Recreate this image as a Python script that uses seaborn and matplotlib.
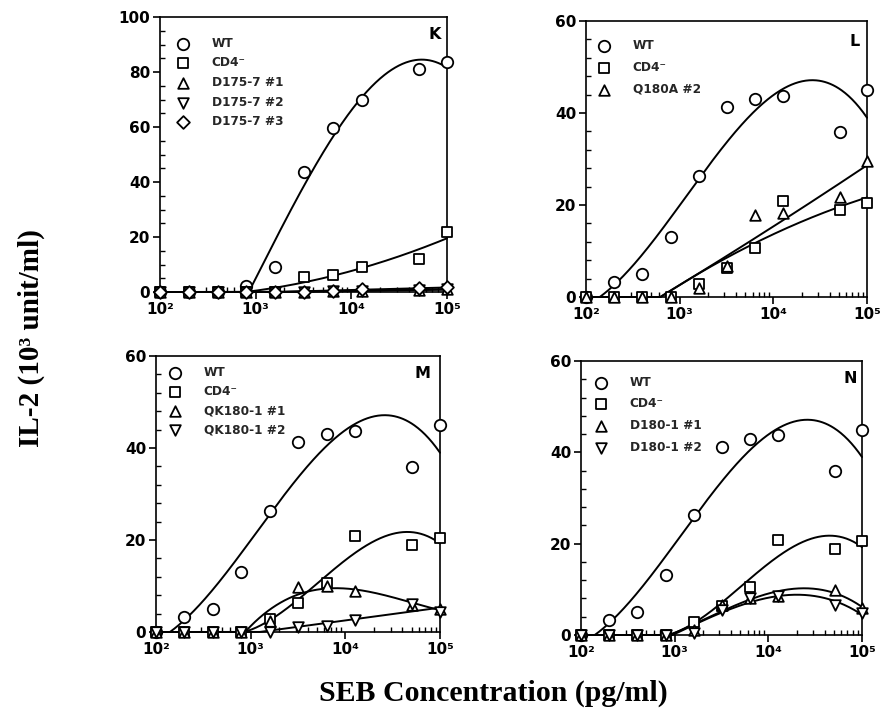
import numpy as np
import matplotlib
matplotlib.use("Agg")
import matplotlib.pyplot as plt
from matplotlib.ticker import FixedLocator, FixedFormatter, MultipleLocator, LogLocator, NullFormatter
import seaborn as sns

# SEB doses (pg/ml), two-fold dilution series
seb_pg_ml = [100, 200, 400, 800, 1600, 3200, 6400, 12800, 51200, 100000]

# IL-2 response (10^3 unit/ml), panel K
wt_k = [0, 0, 0, 2.2, 9.0, 43.6, 59.6, 70.0, 81.0, 83.6]
cd4_k = [0, 0, 0, 0, 0, 5.6, 6.2, 9.2, 11.9, 21.9]
d175_7_1 = [0, 0, 0, 0, 0, 0, 0.3, 0.5, 0.8, 1.2]
d175_7_2 = [0, 0, 0, 0, 0, 0, 0.2, 0.4, 0.6, 1.0]
d175_7_3 = [0, 0, 0, 0, 0, 0, 0.3, 1.0, 1.3, 1.8]

# panels L, M, N share the WT and CD4- controls
wt = [0, 3.3, 5.1, 13.1, 26.3, 41.2, 43.0, 43.7, 35.9, 45.0]
cd4 = [0, 0, 0, 0, 2.8, 6.4, 10.6, 20.9, 18.9, 20.5]
q180a_2 = [0, 0, 0, 0, 2.0, 6.7, 17.8, 18.2, 21.8, 29.6]
qk180_1_1 = [0, 0, 0, 0, 2.5, 9.7, 10.0, 8.9, 5.8, 5.1]
qk180_1_2 = [0, 0, 0, 0, 0, 1.1, 1.3, 2.7, 6.0, 4.4]
d180_1_1 = [0, 0, 0, 0, 1.0, 6.6, 8.1, 8.5, 9.8, 5.9]
d180_1_2 = [0, 0, 0, 0, 0.5, 5.5, 8.0, 8.5, 6.6, 4.9]

x_tick_values = [1e2, 1e3, 1e4, 1e5]
x_tick_labels = ["10²", "10³", "10⁴", "10⁵"]

# (label, values, marker, polynomial degree of the fitted curve, first dose used in the fit)
panels = {
    "K": dict(ymax=100, minor=5, series=[
        ("WT", wt_k, "o", 3, 800),
        ("CD4⁻", cd4_k, "s", 2, 800),
        ("D175-7 #1", d175_7_1, "^", 1, 800),
        ("D175-7 #2", d175_7_2, "v", 1, 800),
        ("D175-7 #3", d175_7_3, "D", 1, 800),
    ]),
    "L": dict(ymax=60, minor=4, series=[
        ("WT", wt, "o", 3, 100),
        ("CD4⁻", cd4, "s", 2, 400),
        ("Q180A #2", q180a_2, "^", 2, 400),
    ]),
    "M": dict(ymax=60, minor=4, series=[
        ("WT", wt, "o", 3, 100),
        ("CD4⁻", cd4, "s", 3, 400),
        ("QK180-1 #1", qk180_1_1, "^", 3, 800),
        ("QK180-1 #2", qk180_1_2, "v", 1, 800),
    ]),
    "N": dict(ymax=60, minor=4, series=[
        ("WT", wt, "o", 3, 100),
        ("CD4⁻", cd4, "s", 3, 400),
        ("D180-1 #1", d180_1_1, "^", 3, 800),
        ("D180-1 #2", d180_1_2, "v", 3, 800),
    ]),
}

# axes boxes in pixels: left, right, top, bottom
W, H = 880, 719
boxes = {"K": (160, 447, 17, 292), "L": (586, 867, 21, 297),
         "M": (156, 440, 356, 632), "N": (581, 862, 361, 635)}
legend_anchor = {"K": (0.0575, 0.928, 0.55), "L": (0.041, 0.933, 0.72),
                 "M": (0.044, 0.964, 0.50), "N": (0.048, 0.946, 0.72)}
letter_pos = {"K": (0.958, 0.935), "L": (0.957, 0.924),
              "M": (0.940, 0.938), "N": (0.957, 0.937)}
marker_size = {"o": 68, "s": 52, "^": 58, "v": 58, "D": 42}

sns.set_theme(style="ticks")
plt.rcParams["font.family"] = ["DejaVu Sans"]
plt.rcParams["font.weight"] = "bold"


def fitted_curve(x, y, degree, start):
    x = np.asarray(x, float)
    y = np.asarray(y, float)
    keep = x >= start
    coef = np.polyfit(np.log10(x[keep]), y[keep], degree)
    grid = np.logspace(2, 5, 400)
    fit = np.polyval(coef, np.log10(grid))
    i = min(np.searchsorted(grid, start), len(grid) - 1)
    while i > 0 and fit[i] > 0:
        i -= 1
    fit[:i] = 0
    return grid, np.clip(fit, 0, None)


fig = plt.figure(figsize=(W / 100, H / 100), dpi=100)

for name, cfg in panels.items():
    l, r, t, b = boxes[name]
    ax = fig.add_axes([l / W, 1 - b / H, (r - l) / W, (b - t) / H])
    ax.set_xscale("log")
    ax.set_xlim(1e2, 1e5)
    ax.set_ylim(0, cfg["ymax"])

    for label, vals, mk, deg, start in cfg["series"]:
        gx, gy = fitted_curve(seb_pg_ml, vals, deg, start)
        sns.lineplot(x=gx, y=gy, ax=ax, color="black", lw=1.4, legend=False,
                     zorder=2, clip_on=False)
    for label, vals, mk, deg, start in cfg["series"]:
        sns.scatterplot(x=seb_pg_ml, y=vals, ax=ax, marker=mk, s=marker_size[mk],
                        color="white", edgecolor="black", linewidth=1.3,
                        label=label, zorder=3, clip_on=False)

    ax.set_xlabel("")
    ax.set_ylabel("")
    for sp in ax.spines.values():
        sp.set_linewidth(1.2)
        sp.set_color("black")

    ax.xaxis.set_major_locator(FixedLocator(x_tick_values))
    ax.xaxis.set_major_formatter(FixedFormatter(x_tick_labels))
    ax.xaxis.set_minor_locator(LogLocator(base=10, subs=np.arange(2, 10)))
    ax.xaxis.set_minor_formatter(NullFormatter())
    ax.yaxis.set_major_locator(MultipleLocator(20))
    ax.yaxis.set_minor_locator(MultipleLocator(cfg["minor"]))
    ax.tick_params(which="major", direction="out", length=5, width=1.2,
                   color="black", labelsize=11, pad=2, labelcolor="black")
    ax.tick_params(which="minor", direction="in", length=3.5, width=1.0, color="black")
    for lab in ax.get_xticklabels() + ax.get_yticklabels():
        lab.set_fontweight("bold")

    ax_x, ax_y, spacing = legend_anchor[name]
    leg = ax.legend(loc="upper left", bbox_to_anchor=(ax_x, ax_y), frameon=False,
                    borderpad=0, borderaxespad=0, handlelength=1.0, handletextpad=1.9,
                    labelspacing=spacing, scatterpoints=1,
                    prop=dict(family="DejaVu Sans", weight="bold", size=8.7))

    lx, ly = letter_pos[name]
    ax.text(lx, ly, name, transform=ax.transAxes, ha="center", va="center",
            fontsize=11.5, fontweight="bold", color="black")

fig.text(31 / W, 1 - 338 / H, "IL-2 (10³ unit/ml)", rotation=90, ha="center", va="center",
         family="Liberation Serif", fontweight="bold", fontsize=21, color="black")
fig.text(493 / W, 1 - 693 / H, "SEB Concentration (pg/ml)", ha="center", va="center",
         family="Liberation Serif", fontweight="bold", fontsize=21.5, color="black")

fig.savefig("out.png", dpi=100, facecolor="white")
